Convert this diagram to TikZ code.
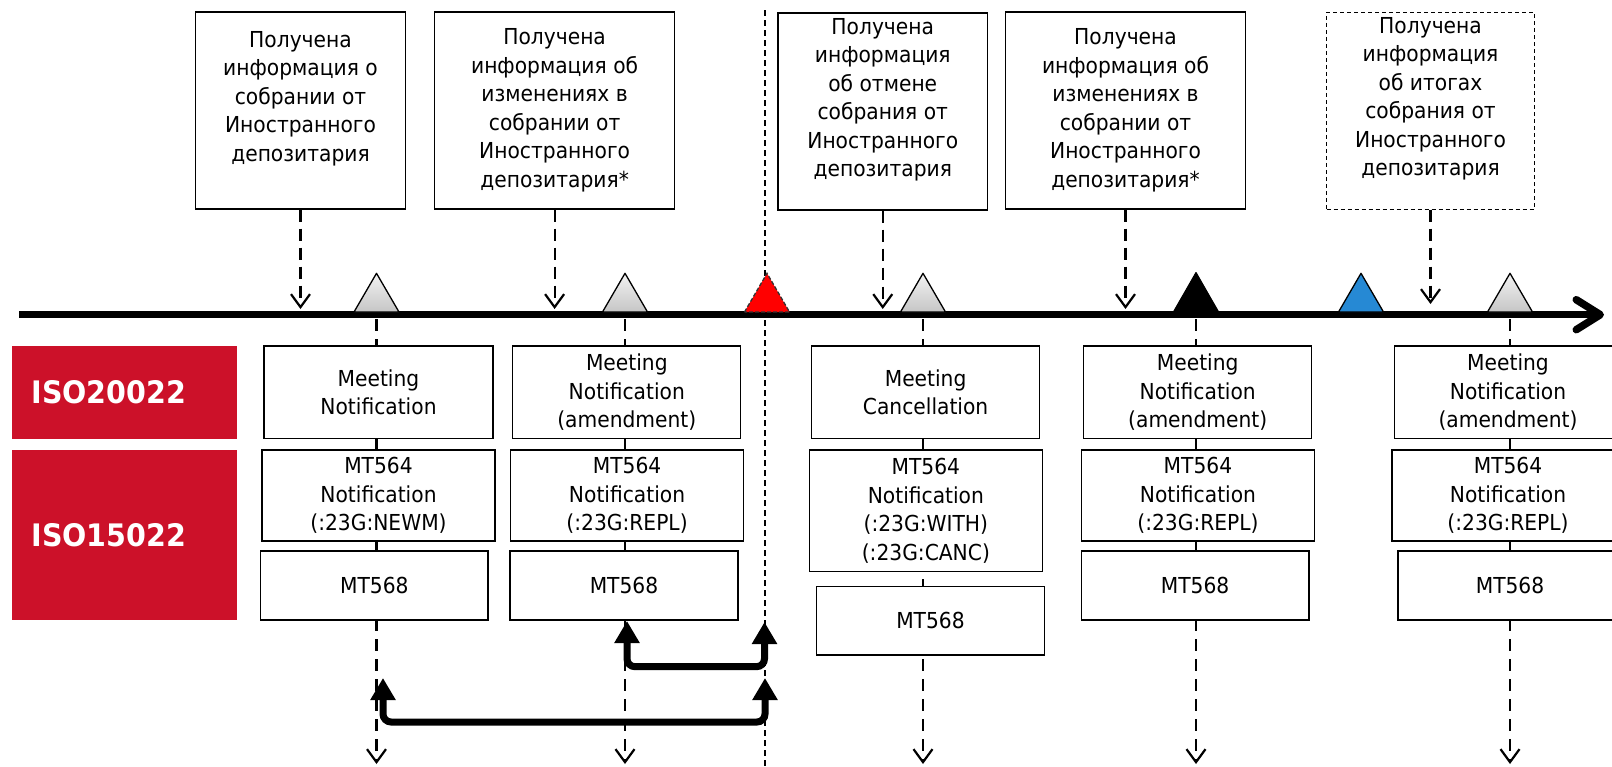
\documentclass[tikz,border=0pt]{standalone}
\usepackage{fontspec}
\setmainfont{DejaVu Sans}[FakeStretch=0.92]
\usetikzlibrary{arrows.meta}
\definecolor{isored}{RGB}{204,17,41}
\definecolor{trblue}{RGB}{38,137,212}
\begin{document}
\begin{tikzpicture}[x=1pt,y=-1pt,
  infobox/.style={draw, line width=1.2pt, fill=white, inner sep=0pt, align=center,
    font=\fontsize{22}{28.5}\selectfont},
  isobox/.style={fill=isored, text=white, inner xsep=19.6pt, inner ysep=0pt, align=left,
    font=\bfseries\fontsize{31}{36}\selectfont},
  darr/.style={line width=2.2pt, dash pattern=on 12pt off 7pt, -{Straight Barb[length=13pt,width=19pt]}},
  colline/.style={line width=2.2pt, dash pattern=on 12pt off 8pt, -{Straight Barb[length=13pt,width=19pt]}},
  bracket/.style={line width=7pt, rounded corners=8pt,
    {Triangle[length=22pt,width=24pt]}-{Triangle[length=22pt,width=24pt]}},
  graytri/.style={top color=gray!10, bottom color=gray!45, draw=black, line width=1.3pt, line join=round},
]
\useasboundingbox (0,0) rectangle (1612,766);
\clip (0,0) rectangle (1612,766);

% red dashed cut line
\coordinate (rtop) at (765,10);
\coordinate (rbot) at (765,766);
\draw[line width=1.6pt, dash pattern=on 6pt off 4pt] (rtop) -- (rbot);

% column dashed lines
\foreach \n/\x in {1/376.5,2/625,3/923,4/1196,5/1510}{
  \coordinate (c\n top) at (\x,319);
  \coordinate (c\n bot) at (\x,764);
  \draw[colline] (c\n top) -- (c\n bot);
}

% top boxes
\node[infobox, minimum width=210pt, minimum height=197pt] (t1) at (300.5,110.5)
  {Получена\\информация о\\собрании от\\Иностранного\\депозитария\\\mbox{}};
\node[infobox, minimum width=240pt, minimum height=197pt] (t2) at (554.6,110.5)
  {Получена\\информация об\\изменениях в\\собрании от\\Иностранного\\депозитария*};
\node[infobox, minimum width=209.5pt, minimum height=197pt] (t3) at (882.75,111.5)
  {Получена\\информация\\об отмене\\собрания от\\Иностранного\\депозитария\\\mbox{}};
\node[infobox, minimum width=240pt, minimum height=197pt] (t4) at (1125.5,110.5)
  {Получена\\информация об\\изменениях в\\собрании от\\Иностранного\\депозитария*};
\node[infobox, dash pattern=on 4pt off 3pt, line width=1pt, minimum width=207.6pt, minimum height=197pt] (t5) at (1430.5,110.5)
  {Получена\\информация\\об итогах\\собрания от\\Иностранного\\депозитария\\\mbox{}};

% axis
\coordinate (axL) at (19,314.7);
\coordinate (axR) at (1604,314.7);
\draw[line width=7.5pt, -{Straight Barb[length=24pt,width=30pt,round]}] (axL) -- (axR);

% arrival points on axis
\coordinate (a1) at (300.5,309);
\coordinate (a2) at (554.6,309);
\coordinate (a3) at (882.75,309);
\coordinate (a4) at (1125.5,309);
\coordinate (a5) at (1430.5,304);
\foreach \n in {1,...,5}{ \draw[darr] (t\n.south) -- (a\n); }

% triangles
\foreach \x in {376.5,625,923,1510}{
  \shade[graytri] (\x-22.5,312) -- (\x,273.3) -- (\x+22.5,312) -- cycle;
}
\fill[red] (744.5,312) -- (767,273.3) -- (789.5,312) -- cycle;
\draw[line width=1.3pt, dash pattern=on 4pt off 2pt, black!80] (744.5,312) -- (767,273.3) -- (789.5,312) -- cycle;
\filldraw[black, line width=1.3pt, line join=round] (1173.5,312) -- (1196,272.7) -- (1218.5,312) -- cycle;
\filldraw[fill=trblue, draw=black, line width=1.3pt, line join=round] (1338.5,312) -- (1361,273.3) -- (1383.5,312) -- cycle;

% ISO labels
\node[isobox, text width=185.8pt, minimum height=92.7pt] (iso1) at (124.5,392.35) {ISO20022};
\node[isobox, text width=185.8pt, minimum height=170pt] (iso2) at (124.5,535) {ISO15022};

% column 1
\node[infobox, minimum width=229pt, minimum height=92.7pt] (mn1) at (378.5,392.35) {Meeting\\Notification};
\node[infobox, minimum width=233pt, minimum height=91pt] (mt1) at (378.5,495.5) {MT564\\Notification\\(:23G:NEWM)};
\node[infobox, minimum width=227.3pt, minimum height=69pt] (ms1) at (374.35,585.5) {MT568};
% column 2
\node[infobox, minimum width=228pt, minimum height=92.7pt] (mn2) at (626.8,392.35) {Meeting\\Notification\\(amendment)};
\node[infobox, minimum width=232.7pt, minimum height=91pt] (mt2) at (627.05,495.5) {MT564\\Notification\\(:23G:REPL)};
\node[infobox, minimum width=228pt, minimum height=69pt] (ms2) at (624,585.5) {MT568};
% column 3
\node[infobox, minimum width=228.4pt, minimum height=92.7pt] (mn3) at (925.6,392.35) {Meeting\\Cancellation};
\node[infobox, minimum width=233.1pt, minimum height=121.3pt] (mt3) at (925.85,510.65) {MT564\\Notification\\(:23G:WITH)\\(:23G:CANC)};
\node[infobox, minimum width=227.8pt, minimum height=68.3pt] (ms3) at (930.5,620.85) {MT568};
% column 4
\node[infobox, minimum width=227.8pt, minimum height=92.7pt] (mn4) at (1197.7,392.35) {Meeting\\Notification\\(amendment)};
\node[infobox, minimum width=232.5pt, minimum height=91pt] (mt4) at (1197.95,495.5) {MT564\\Notification\\(:23G:REPL)};
\node[infobox, minimum width=227.8pt, minimum height=69pt] (ms4) at (1195.1,585.5) {MT568};
% column 5
\node[infobox, minimum width=227pt, minimum height=92.7pt] (mn5) at (1508,392.35) {Meeting\\Notification\\(amendment)};
\node[infobox, minimum width=232pt, minimum height=91pt] (mt5) at (1508,495.5) {MT564\\Notification\\(:23G:REPL)};
\node[infobox, minimum width=224pt, minimum height=69pt] (ms5) at (1510,585.5) {MT568};

% brackets
\coordinate (u1) at (627,621);
\coordinate (u2) at (764.5,622);
\draw[bracket] (u1) -- (627,666.7) -- (764.5,666.7) -- (u2);
\coordinate (l1) at (383,678);
\coordinate (l2) at (765,678);
\draw[bracket] (l1) -- (383,722) -- (765,722) -- (l2);
\end{tikzpicture}
\end{document}
